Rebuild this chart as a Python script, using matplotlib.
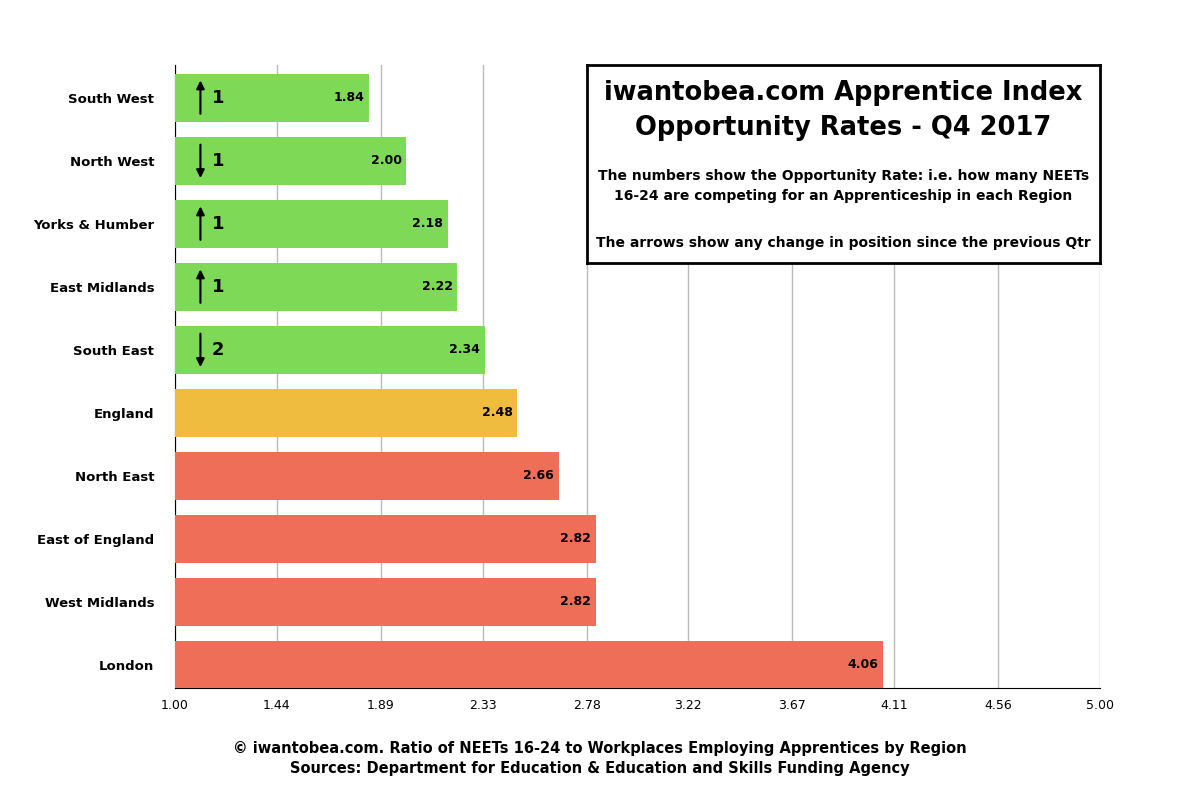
import matplotlib.pyplot as plt
import numpy as np

regions = ["South West", "North West", "Yorks & Humber", "East Midlands", "South East",
           "England", "North East", "East of England", "West Midlands", "London"]
rates = [1.84, 2.00, 2.18, 2.22, 2.34, 2.48, 2.66, 2.82, 2.82, 4.06]
moves = [1, -1, 1, 1, -2, 0, 0, 0, 0, 0]  # change in position since previous qtr
bar_colors = ["#7ED957"] * 5 + ["#F0BC40"] + ["#EE6E58"] * 4
xticks = [1.00, 1.44, 1.89, 2.33, 2.78, 3.22, 3.67, 4.11, 4.56, 5.00]

plt.rcParams["font.family"] = "DejaVu Sans"
fig = plt.figure(figsize=(12, 7.95), dpi=100)
ax = fig.add_axes([175 / 1200, 1 - 688 / 795, 925 / 1200, 623 / 795])

y = np.arange(len(regions))
ax.barh(y, [r - 1 for r in rates], left=1, height=0.76, color=bar_colors, zorder=3)
ax.set_ylim(len(regions) - 0.63, -0.52)
ax.set_xlim(1, 5)
ax.set_xticks(xticks)
ax.set_xticklabels([f"{t:.2f}" for t in xticks], fontsize=9)
ax.set_yticks(y)
ax.set_yticklabels(regions, fontsize=9.5, fontweight="bold")
ax.tick_params(axis="y", length=0, pad=15)
ax.tick_params(axis="x", length=0, pad=8)
ax.grid(axis="x", color="#bbbbbb", linewidth=1, zorder=0)
for s in ["top", "right"]:
    ax.spines[s].set_visible(False)

for i, (r, m) in enumerate(zip(rates, moves)):
    ax.text(r - 0.02, i, f"{r:.2f}", ha="right", va="center", fontsize=9, fontweight="bold", zorder=4)
    if m != 0:
        y0, y1 = (i + 0.3, i - 0.32) if m > 0 else (i - 0.3, i + 0.32)
        ax.annotate("", xy=(1.11, y1), xytext=(1.11, y0),
                    arrowprops=dict(arrowstyle="-|>", color="black", lw=1.5, mutation_scale=12), zorder=4)
        ax.text(1.16, i, str(abs(m)), ha="left", va="center", fontsize=13, fontweight="bold", zorder=4)

# title box
bx = fig.add_axes([587 / 1200, 1 - 263 / 795, 513 / 1200, 198 / 795])
bx.set_xticks([]); bx.set_yticks([])
for s in bx.spines.values():
    s.set_linewidth(2)
bx.text(0.5, 0.86, "iwantobea.com Apprentice Index", ha="center", va="center", fontsize=18.5, fontweight="bold")
bx.text(0.5, 0.68, "Opportunity Rates - Q4 2017", ha="center", va="center", fontsize=18.5, fontweight="bold")
bx.text(0.5, 0.39, "The numbers show the Opportunity Rate: i.e. how many NEETs\n16-24 are competing for an Apprenticeship in each Region",
        ha="center", va="center", fontsize=10, fontweight="bold", linespacing=1.5)
bx.text(0.5, 0.1, "The arrows show any change in position since the previous Qtr",
        ha="center", va="center", fontsize=10, fontweight="bold")

fig.text(0.5, 1 - 748 / 795, "© iwantobea.com. Ratio of NEETs 16-24 to Workplaces Employing Apprentices by Region",
         ha="center", va="center", fontsize=10.5, fontweight="bold")
fig.text(0.5, 1 - 769 / 795, "Sources: Department for Education & Education and Skills Funding Agency",
         ha="center", va="center", fontsize=10.5, fontweight="bold")

fig.savefig("out.png", dpi=100)
